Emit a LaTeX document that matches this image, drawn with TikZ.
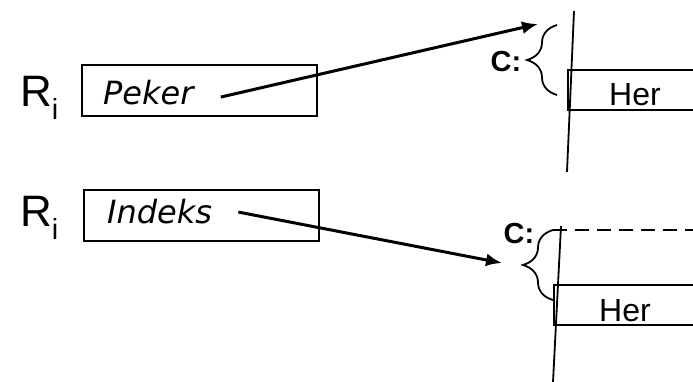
\documentclass[tikz,border=0pt]{standalone}
\usepackage{fontspec}
\setmainfont{Liberation Sans}
\newfontfamily\boxfont{DejaVu Sans}
\usetikzlibrary{arrows.meta}
\usetikzlibrary{decorations.pathreplacing}

\tikzset{
  regbox/.style={draw,line width=2pt,rectangle,anchor=north west,
    minimum width=235pt,minimum height=51pt,inner sep=0pt},
  regtxt/.style={anchor=base west,inner sep=2pt,
    font=\boxfont\itshape\fontsize{32}{32}\selectfont},
  reglbl/.style={anchor=base west,inner sep=0pt,font=\fontsize{44}{44}\selectfont},
  herbox/.style={draw,line width=2pt,rectangle,anchor=north west,
    minimum width=150pt,minimum height=40pt,inner sep=0pt},
  hertxt/.style={anchor=base,inner sep=0pt,font=\fontsize{32}{32}\selectfont},
  clbl/.style={inner sep=0pt,font=\bfseries\fontsize{29}{29}\selectfont},
  ptr/.style={-{Latex[length=16pt,width=13pt]},line width=3pt},
  brc/.style={decorate,decoration={brace,amplitude=30pt},line width=1.8pt},
  wall/.style={line width=1.8pt}
}
\newcommand{\regname}{R\raisebox{-13pt}{\fontsize{29}{29}\selectfont i}}

\begin{document}
\begin{tikzpicture}[x=1pt,y=-1pt]
  \clip (0,0) rectangle (693,382);

  \node[reglbl] (rtop) at (20,107) {\regname};
  \node[regbox] (pbox) at (81,64) {};
  \node[regtxt] (ptxt) at (101,105) {Peker};
  \coordinate (ptip) at (538,24);
  \draw[wall] (574,11) coordinate (wtopa) -- (567,172) coordinate (wtopb);
  \node[herbox] (htop) at (567,69) {};
  \node[hertxt] (htoptxt) at (635,106) {Her};
  \draw[brc] (557,95) -- (557,25);
  \node[clbl] (ctop) at (506,62) {C:};
  \draw[ptr] ([xshift=25pt,yshift=-4pt]ptxt.east) -- (ptip);

  \node[reglbl] (rbot) at (20,226) {\regname};
  \node[regbox] (ibox) at (83,189) {};
  \node[regtxt] (itxt) at (105,223) {Indeks};
  \coordinate (itip) at (502,263);
  \draw[wall] (561,226) coordinate (wbota) -- (553,382) coordinate (wbotb);
  \node[herbox] (hbot) at (553,284) {};
  \node[hertxt] (hbottxt) at (625,321) {Her};
  \draw[brc] (553,300) -- (553,230);
  \draw[wall,dash pattern=on 14pt off 8pt] (553,230) -- (693,230);
  \node[clbl] (cbot) at (519,234) {C:};
  \draw[ptr] ([xshift=24pt,yshift=-1pt]itxt.east) -- (itip);
\end{tikzpicture}
\end{document}
